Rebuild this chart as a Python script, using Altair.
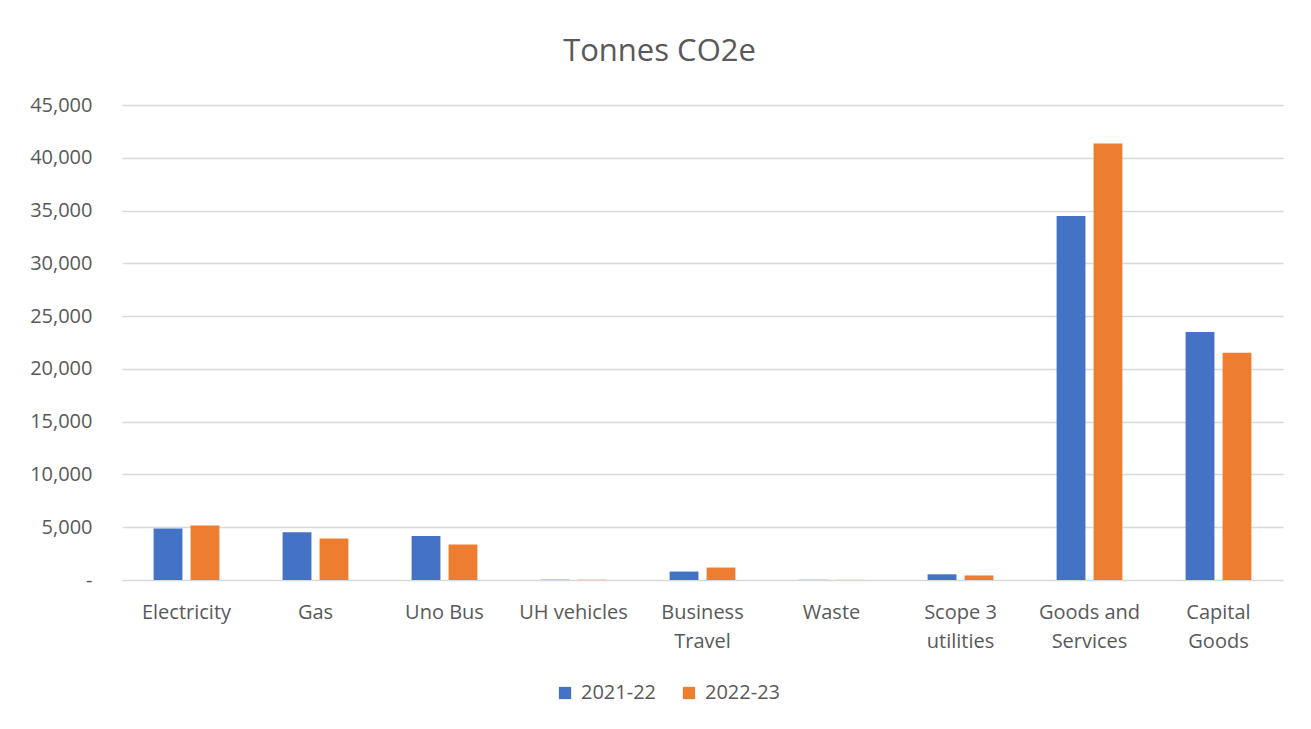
import altair as alt
import pandas as pd

categories = ["Electricity", "Gas", "Uno Bus", "UH vehicles", "Business Travel",
              "Waste", "Scope 3 utilities", "Goods and Services", "Capital Goods"]
series = ["2021-22", "2022-23"]
values_2021 = [4880, 4520, 4170, 30, 800, 20, 540, 34490, 23490]
values_2022 = [5160, 3920, 3370, 25, 1180, 15, 430, 41360, 21520]
label_lines = {
    "Business Travel": ["Business", "Travel"],
    "Scope 3 utilities": ["Scope 3", "utilities"],
    "Goods and Services": ["Goods and", "Services"],
    "Capital Goods": ["Capital", "Goods"],
}

rows = []
for c, a, b in zip(categories, values_2021, values_2022):
    rows.append({"Category": c, "Year": series[0], "Value": a})
    rows.append({"Category": c, "Year": series[1], "Value": b})
df = pd.DataFrame(rows)

expr = "datum.value"
for k, v in reversed(list(label_lines.items())):
    expr = f"datum.value == '{k}' ? ['{v[0]}', '{v[1]}'] : ({expr})"

FONT = "Open Sans"
TXT = "#595959"

chart = alt.Chart(df).mark_bar().encode(
    x=alt.X("Category:N", sort=categories,
            scale=alt.Scale(paddingInner=0.49, paddingOuter=0.245),
            axis=alt.Axis(title=None, labelAngle=0, labelExpr=expr,
                          labelFontSize=20, labelColor=TXT, labelFont=FONT,
                          labelPadding=32, labelLineHeight=29,
                          ticks=False, domain=False, labelBaseline="middle")),
    xOffset=alt.XOffset("Year:N", sort=series, scale=alt.Scale(paddingInner=0.22)),
    y=alt.Y("Value:Q", scale=alt.Scale(domain=[0, 45000], nice=False),
            axis=alt.Axis(title=None, values=list(range(0, 45001, 5000)),
                          labelExpr="datum.value == 0 ? '-\u00a0\u00a0\u00a0\u00a0' : format(datum.value, ',')",
                          labelFontSize=20, labelColor=TXT, labelFont=FONT,
                          labelPadding=30, ticks=False, domain=False,
                          gridColor="#d9d9d9", gridWidth=1.3)),
    color=alt.Color("Year:N", sort=series,
                    scale=alt.Scale(domain=series, range=["#4472C4", "#ED7D31"]),
                    legend=alt.Legend(title=None, orient="none", direction="horizontal",
                                      legendX=433, legendY=578, symbolType="square",
                                      symbolSize=150, symbolStrokeWidth=0,
                                      labelFontSize=20, labelColor=TXT, labelFont=FONT,
                                      columnPadding=22, labelOffset=6)),
).properties(
    width=1161, height=475,
    title=alt.TitleParams("Tonnes CO2e", fontSize=31, font=FONT, color=TXT,
                          fontWeight="normal", anchor="middle", dx=-43, offset=27),
    autosize=alt.AutoSizeParams(type="none"),
    padding={"left": 114, "top": 97, "right": 12, "bottom": 130},
).configure_view(stroke=None)

chart.save("out.html", embed_options={"renderer": "svg", "actions": False})
